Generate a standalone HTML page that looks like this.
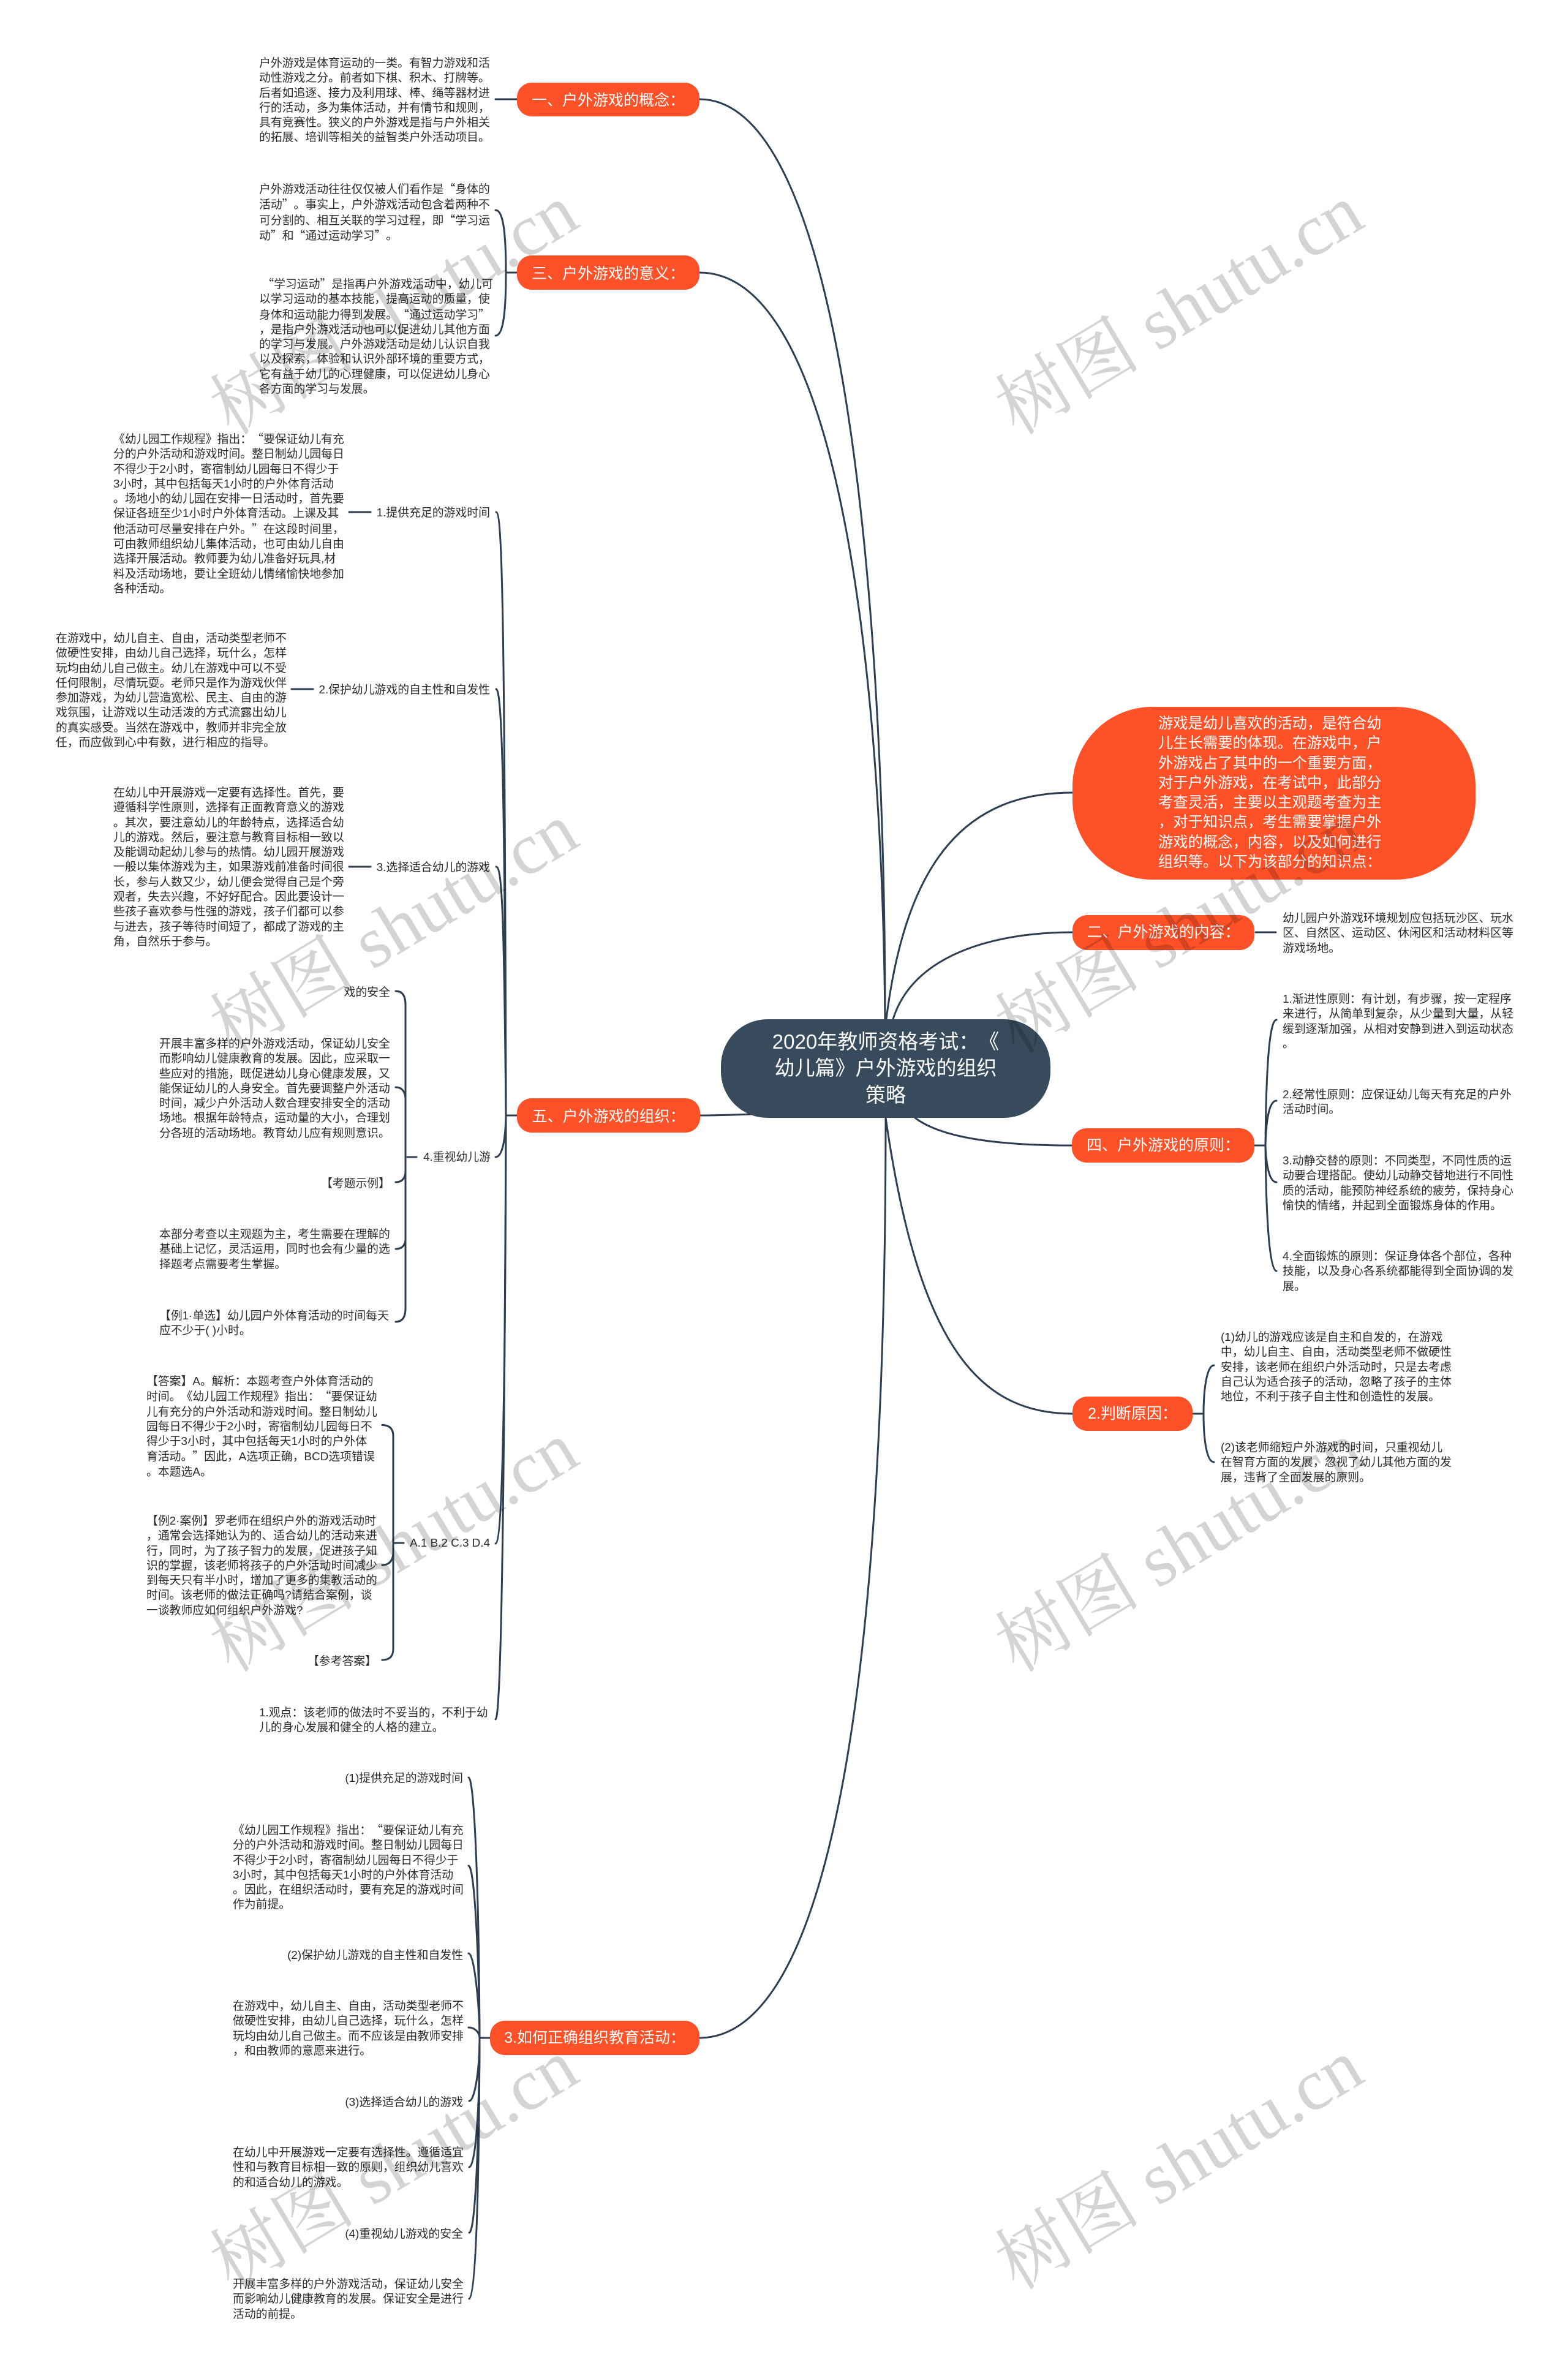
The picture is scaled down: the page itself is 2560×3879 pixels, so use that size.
<!DOCTYPE html>
<html lang="zh-CN"><head><meta charset="utf-8"><style>
html,body{margin:0;padding:0;background:#fff}
#p{position:relative;width:2560px;height:3879px;overflow:hidden;background:#fff;font-family:"Liberation Sans","Noto Sans CJK SC",sans-serif;color:#2b2b2b;text-spacing-trim:space-all}
svg{position:absolute;left:0;top:0}
.t{position:absolute;font-size:18.85px;line-height:24.3px;white-space:pre}
.t i{font-style:normal;font-family:"Noto Sans CJK SC",sans-serif}
.r{text-align:right}
.n{position:absolute;background:#ff5128;color:#fff;font-size:25px;text-align:center;white-space:pre;box-sizing:border-box}
.m{padding-top:2px}
</style></head><body><div id="p">
<svg width="2560" height="3879" fill="none" stroke="#2c3e50" stroke-width="3" stroke-linecap="round">
<path d="M1142 162C1380 162 1445 1000 1445 1664"/>
<path d="M1142 445C1370 445 1440 1100 1445 1664"/>
<path d="M1751 1294C1580 1294 1480 1400 1447 1664"/>
<path d="M1751 1522C1620 1522 1490 1560 1458 1664"/>
<path d="M1494 1825C1540 1860 1640 1870 1750 1870"/>
<path d="M1751 2308C1600 2308 1500 2200 1446 1825"/>
<path d="M1142 3327C1300 3327 1446 3000 1446 1825"/>
<path d="M1143 1821C1170 1821 1200 1820 1226 1819"/>
<path d="M809 162H844M826 445H844M828 1821H844M785 3327H800M2048 1870H2066M2050 1522H2083M1947 2308H1965"/>
<path d="M809 343C820 343 826 370 826 445C826 520 820 548 809 548"/>
<path d="M810 836C820 836 824 1000 826 1821"/>
<path d="M810 1125C820 1125 824 1300 826 1821"/>
<path d="M810 1415C820 1415 823 1500 826 1821"/>
<path d="M809 1889C818 1889 825 1870 826 1821"/>
<path d="M809 2520C820 2519 825 2300 826 1821"/>
<path d="M809 2807C820 2807 824 2300 826 1821"/>
<path d="M570 836H605M476 1125H511M570 1415H605M665 1889H680M642 2519H659"/>
<path d="M646 1618Q662 1618 662 1640V2136Q662 2158 646 2158"/>
<path d="M646 1775Q660 1775 662 1792M646 1930Q660 1930 662 1915M646 2039Q660 2039 662 2025"/>
<path d="M624 2326.500Q642 2326.500 642 2345V2692Q642 2710 624 2710"/>
<path d="M624 2555Q640 2555 642 2537"/>
<path d="M765 2902C775 2902 782 3100 783 3327"/>
<path d="M765 3046C775 3046 782 3200 783 3327"/>
<path d="M765 3189C775 3189 783 3280 783 3327"/>
<path d="M765 3310C775 3310 783 3318 783 3327"/>
<path d="M766 3430C775 3430 783 3380 783 3327"/>
<path d="M766 3538C776 3538 783 3450 783 3327"/>
<path d="M766 3645C776 3645 782 3500 783 3327"/>
<path d="M766 3753C776 3753 782 3600 783 3327"/>
<path d="M2084 1665C2072 1665 2067 1750 2066 1870C2067 1980 2072 2075 2084 2075"/>
<path d="M2084 1797C2072 1797 2067 1830 2066 1870M2084 1930C2072 1930 2067 1900 2066 1870"/>
<path d="M1982 2229C1970 2229 1965 2270 1965 2308C1965 2350 1970 2387 1982 2387"/>
</svg>

<div class="n" style="left:1177px;top:1664px;width:538px;height:161px;border-radius:76px;background:#374b5c;font-size:33px;line-height:43.4px;padding-top:15px">2020年教师资格考试：《
幼儿篇》户外游戏的组织
策略</div>
<div class="n" style="left:1751px;top:1154px;width:658px;height:282px;border-radius:130px;text-align:left;font-size:24.3px;line-height:32.3px;padding:12px 0 0 140px">游戏是幼儿喜欢的活动，是符合幼
儿生长需要的体现。在游戏中，户
外游戏占了其中的一个重要方面，
对于户外游戏，在考试中，此部分
考查灵活，主要以主观题考查为主
，对于知识点，考生需要掌握户外
游戏的概念，内容，以及如何进行
组织等。以下为该部分的知识点：</div>
<div class="n m" style="left:844px;top:135px;width:298px;height:55px;border-radius:24px;line-height:55px">一、户外游戏的概念：</div>
<div class="n m" style="left:844px;top:417px;width:298px;height:56px;border-radius:24px;line-height:56px">三、户外游戏的意义：</div>
<div class="n m" style="left:844px;top:1793px;width:299px;height:56px;border-radius:24px;line-height:56px">五、户外游戏的组织：</div>
<div class="n" style="left:800px;top:3299px;width:342px;height:56px;border-radius:24px;line-height:56px">3.如何正确组织教育活动：</div>
<div class="n" style="left:1751px;top:1494px;width:297px;height:57px;border-radius:24px;line-height:57px">二、户外游戏的内容：</div>
<div class="n" style="left:1750px;top:1842px;width:298px;height:56px;border-radius:24px;line-height:56px">四、户外游戏的原则：</div>
<div class="n" style="left:1751px;top:2280px;width:196px;height:56px;border-radius:24px;line-height:56px">2.判断原因：</div>

<div class="t" style="left:423px;top:91px">户外游戏是体育运动的一类。有智力游戏和活
动性游戏之分。前者如下棋、积木、打牌等。
后者如追逐、接力及利用球、棒、绳等器材进
行的活动，多为集体活动，并有情节和规则，
具有竞赛性。狭义的户外游戏是指与户外相关
的拓展、培训等相关的益智类户外活动项目。</div>
<div class="t" style="left:423px;top:296px">户外游戏活动往往仅仅被人们看作是<i>“</i>身体的
活动<i>”</i>。事实上，户外游戏活动包含着两种不
可分割的、相互关联的学习过程，即<i>“</i>学习运
动<i>”</i>和<i>“</i>通过运动学习<i>”</i>。</div>
<div class="t" style="left:423px;top:451px"> <i>“</i>学习运动<i>”</i>是指再户外游戏活动中，幼儿可
以学习运动的基本技能，提高运动的质量，使
身体和运动能力得到发展。<i>“</i>通过运动学习<i>”</i>
，是指户外游戏活动也可以促进幼儿其他方面
的学习与发展。户外游戏活动是幼儿认识自我
以及探索，体验和认识外部环境的重要方式，
它有益于幼儿的心理健康，可以促进幼儿身心
各方面的学习与发展。</div>
<div class="t" style="left:185px;top:704px">《幼儿园工作规程》指出：<i>“</i>要保证幼儿有充
分的户外活动和游戏时间。整日制幼儿园每日
不得少于2小时，寄宿制幼儿园每日不得少于
3小时，其中包括每天1小时的户外体育活动
。场地小的幼儿园在安排一日活动时，首先要
保证各班至少1小时户外体育活动。上课及其
他活动可尽量安排在户外。<i>”</i>在这段时间里，
可由教师组织幼儿集体活动，也可由幼儿自由
选择开展活动。教师要为幼儿准备好玩具,材
料及活动场地，要让全班幼儿情绪愉快地参加
各种活动。</div>
<div class="t r" style="right:1760px;top:825px">1.提供充足的游戏时间</div>
<div class="t" style="left:91px;top:1030px">在游戏中，幼儿自主、自由，活动类型老师不
做硬性安排，由幼儿自己选择，玩什么，怎样
玩均由幼儿自己做主。幼儿在游戏中可以不受
任何限制，尽情玩耍。老师只是作为游戏伙伴
参加游戏，为幼儿营造宽松、民主、自由的游
戏氛围，让游戏以生动活泼的方式流露出幼儿
的真实感受。当然在游戏中，教师并非完全放
任，而应做到心中有数，进行相应的指导。</div>
<div class="t r" style="right:1760px;top:1114px">2.保护幼儿游戏的自主性和自发性</div>
<div class="t" style="left:185px;top:1282px">在幼儿中开展游戏一定要有选择性。首先，要
遵循科学性原则，选择有正面教育意义的游戏
。其次，要注意幼儿的年龄特点，选择适合幼
儿的游戏。然后，要注意与教育目标相一致以
及能调动起幼儿参与的热情。幼儿园开展游戏
一般以集体游戏为主，如果游戏前准备时间很
长，参与人数又少，幼儿便会觉得自己是个旁
观者，失去兴趣，不好好配合。因此要设计一
些孩子喜欢参与性强的游戏，孩子们都可以参
与进去，孩子等待时间短了，都成了游戏的主
角，自然乐于参与。</div>
<div class="t r" style="right:1760px;top:1404px">3.选择适合幼儿的游戏</div>
<div class="t r" style="right:1923px;top:1608px">戏的安全</div>
<div class="t" style="left:260px;top:1692px">开展丰富多样的户外游戏活动，保证幼儿安全
而影响幼儿健康教育的发展。因此，应采取一
些应对的措施，既促进幼儿身心健康发展，又
能保证幼儿的人身安全。首先要调整户外活动
时间，减少户外活动人数合理安排安全的活动
场地。根据年龄特点，运动量的大小，合理划
分各班的活动场地。教育幼儿应有规则意识。</div>
<div class="t r" style="right:1759px;top:1877px">4.重视幼儿游</div>
<div class="t r" style="right:1923px;top:1920px">【考题示例】</div>
<div class="t" style="left:260px;top:2003px">本部分考查以主观题为主，考生需要在理解的
基础上记忆，灵活运用，同时也会有少量的选
择题考点需要考生掌握。</div>
<div class="t" style="left:260px;top:2136px">【例1·单选】幼儿园户外体育活动的时间每天
应不少于( )小时。</div>
<div class="t" style="left:239px;top:2243px">【答案】A。解析：本题考查户外体育活动的
时间。《幼儿园工作规程》指出：<i>“</i>要保证幼
儿有充分的户外活动和游戏时间。整日制幼儿
园每日不得少于2小时，寄宿制幼儿园每日不
得少于3小时，其中包括每天1小时的户外体
育活动。<i>”</i>因此，A选项正确，BCD选项错误
。本题选A。</div>
<div class="t" style="left:239px;top:2471px">【例2·案例】罗老师在组织户外的游戏活动时
，通常会选择她认为的、适合幼儿的活动来进
行，同时，为了孩子智力的发展，促进孩子知
识的掌握，该老师将孩子的户外活动时间减少
到每天只有半小时，增加了更多的集教活动的
时间。该老师的做法正确吗?请结合案例，谈
一谈教师应如何组织户外游戏?</div>
<div class="t r" style="right:1760px;top:2507px">A.1 B.2 C.3 D.4</div>
<div class="t r" style="right:1945px;top:2700px">【参考答案】</div>
<div class="t" style="left:423px;top:2784px">1.观点：该老师的做法时不妥当的，不利于幼
儿的身心发展和健全的人格的建立。</div>
<div class="t r" style="right:1804px;top:2891px">(1)提供充足的游戏时间</div>
<div class="t" style="left:380px;top:2975px">《幼儿园工作规程》指出：<i>“</i>要保证幼儿有充
分的户外活动和游戏时间。整日制幼儿园每日
不得少于2小时，寄宿制幼儿园每日不得少于
3小时，其中包括每天1小时的户外体育活动
。因此，在组织活动时，要有充足的游戏时间
作为前提。</div>
<div class="t r" style="right:1804px;top:3180px">(2)保护幼儿游戏的自主性和自发性</div>
<div class="t" style="left:380px;top:3263px">在游戏中，幼儿自主、自由，活动类型老师不
做硬性安排，由幼儿自己选择，玩什么，怎样
玩均由幼儿自己做主。而不应该是由教师安排
，和由教师的意愿来进行。</div>
<div class="t r" style="right:1804px;top:3420px">(3)选择适合幼儿的游戏</div>
<div class="t" style="left:380px;top:3502px">在幼儿中开展游戏一定要有选择性。遵循适宜
性和与教育目标相一致的原则，组织幼儿喜欢
的和适合幼儿的游戏。</div>
<div class="t r" style="right:1804px;top:3635px">(4)重视幼儿游戏的安全</div>
<div class="t" style="left:380px;top:3717px">开展丰富多样的户外游戏活动，保证幼儿安全
而影响幼儿健康教育的发展。保证安全是进行
活动的前提。</div>
<div class="t" style="left:2094px;top:1487px">幼儿园户外游戏环境规划应包括玩沙区、玩水
区、自然区、运动区、休闲区和活动材料区等
游戏场地。</div>
<div class="t" style="left:2094px;top:1619px">1.渐进性原则：有计划，有步骤，按一定程序
来进行，从简单到复杂，从少量到大量，从轻
缓到逐渐加强，从相对安静到进入到运动状态
。</div>
<div class="t" style="left:2094px;top:1775px">2.经常性原则：应保证幼儿每天有充足的户外
活动时间。</div>
<div class="t" style="left:2094px;top:1883px">3.动静交替的原则：不同类型，不同性质的运
动要合理搭配。使幼儿动静交替地进行不同性
质的活动，能预防神经系统的疲劳，保持身心
愉快的情绪，并起到全面锻炼身体的作用。</div>
<div class="t" style="left:2094px;top:2039px">4.全面锻炼的原则：保证身体各个部位，各种
技能，以及身心各系统都能得到全面协调的发
展。</div>
<div class="t" style="left:1993px;top:2171px">(1)幼儿的游戏应该是自主和自发的，在游戏
中，幼儿自主、自由，活动类型老师不做硬性
安排，该老师在组织户外活动时，只是去考虑
自己认为适合孩子的活动，忽略了孩子的主体
地位，不利于孩子自主性和创造性的发展。</div>
<div class="t" style="left:1993px;top:2351px">(2)该老师缩短户外游戏的时间，只重视幼儿
在智育方面的发展，忽视了幼儿其他方面的发
展，违背了全面发展的原则。</div>

<svg width="2560" height="3879" style="pointer-events:none" font-family="'Liberation Serif','Noto Serif CJK SC',serif" font-size="119" fill="#000" fill-opacity=".17">
<text transform="translate(1660 712) rotate(-31)" xml:space="preserve">树图 shutu.cn</text>
<text transform="translate(378 712) rotate(-31)" xml:space="preserve">树图 shutu.cn</text>
<text transform="translate(1660 1722) rotate(-31)" xml:space="preserve">树图 shutu.cn</text>
<text transform="translate(378 1722) rotate(-31)" xml:space="preserve">树图 shutu.cn</text>
<text transform="translate(1660 2732) rotate(-31)" xml:space="preserve">树图 shutu.cn</text>
<text transform="translate(378 2732) rotate(-31)" xml:space="preserve">树图 shutu.cn</text>
<text transform="translate(1660 3740) rotate(-31)" xml:space="preserve">树图 shutu.cn</text>
<text transform="translate(378 3740) rotate(-31)" xml:space="preserve">树图 shutu.cn</text>
</svg>
</div></body></html>
